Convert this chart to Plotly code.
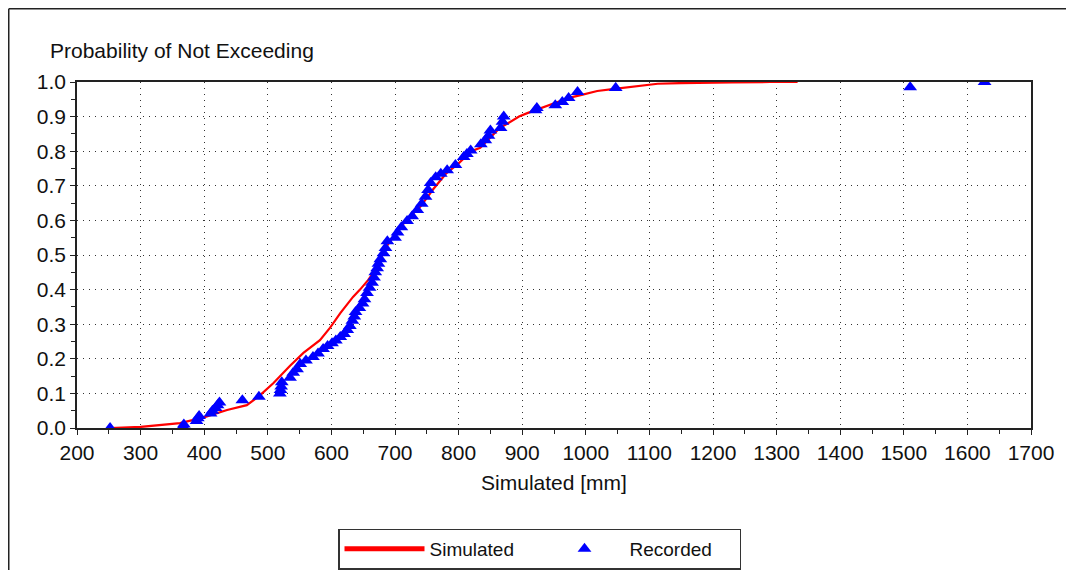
import plotly.graph_objects as go

# Simulated CDF (red line)
sim_x = [252, 300, 362, 398, 436, 467, 488, 509, 535, 556, 582, 598, 614, 634, 645, 658,
         670, 685, 700, 720, 740, 760, 780, 800, 820, 834, 850, 865, 877, 895, 908, 930,
         955, 975, 992, 1018, 1045, 1070, 1090, 1113, 1150, 1170, 1230, 1290, 1333]
sim_p = [0.0, 0.003, 0.014, 0.03, 0.052, 0.066, 0.095, 0.13, 0.18, 0.217, 0.254, 0.29, 0.332, 0.379, 0.40, 0.428,
         0.46, 0.52, 0.56, 0.605, 0.64, 0.69, 0.735, 0.765, 0.80, 0.81, 0.84, 0.868, 0.88, 0.90, 0.91, 0.925,
         0.94, 0.955, 0.962, 0.974, 0.98, 0.986, 0.99, 0.995, 0.997, 0.998, 0.999, 1.0, 1.0]

# Recorded values (blue triangles)
rec_x = [252, 367, 368, 388, 390, 392, 410, 413, 418, 421, 424, 460, 486, 519, 520, 521, 522,
         535, 540, 546, 551, 560, 571, 579, 587, 594, 601, 607, 614, 620, 625, 629, 633, 636,
         638, 644, 649, 652, 656, 660, 664, 667, 669, 672, 674, 677, 682, 685, 688, 700,
         704, 710, 719, 727, 735, 742, 748, 752, 756, 764, 772, 782, 795, 808, 813, 819,
         835, 842, 847, 850, 866, 869, 871, 921, 923, 952, 963, 973, 987, 1047, 1510, 1627]
rec_p = [0.000, 0.004, 0.010, 0.020, 0.028, 0.035, 0.042, 0.050, 0.058, 0.066, 0.074, 0.080, 0.090, 0.100, 0.110, 0.120, 0.132,
         0.145, 0.160, 0.170, 0.185, 0.195, 0.205, 0.215, 0.228, 0.237, 0.245, 0.253, 0.263, 0.272, 0.283, 0.295, 0.310, 0.322,
         0.335, 0.347, 0.360, 0.372, 0.390, 0.405, 0.420, 0.435, 0.450, 0.462, 0.475, 0.488, 0.505, 0.520, 0.540, 0.550,
         0.565, 0.580, 0.598, 0.612, 0.630, 0.648, 0.668, 0.688, 0.708, 0.725, 0.735, 0.745, 0.760, 0.783, 0.792, 0.802,
         0.820, 0.832, 0.845, 0.860, 0.867, 0.885, 0.900, 0.918, 0.925, 0.933, 0.942, 0.954, 0.971, 0.983, 0.985, 1.000]

FONT = "Liberation Sans, Arial, sans-serif"
W, H = 1066, 562
L, R, T, B = 69, 43, 74, 142
PW, PH = W - L - R, H - T - B

fig = go.Figure()
fig.add_trace(go.Scatter(x=sim_x, y=sim_p, mode="lines", name="Simulated",
                         line=dict(color="#FF0000", width=2.2)))
fig.add_trace(go.Scatter(x=rec_x, y=rec_p, mode="markers", name="Recorded",
                         marker=dict(symbol="triangle-up", color="#0000FF", size=12,
                                     line=dict(width=0))))

fig.update_layout(
    width=W, height=H,
    margin=dict(l=L, r=R, t=T, b=B, autoexpand=False),
    paper_bgcolor="white", plot_bgcolor="white",
    font=dict(family=FONT, size=21, color="#111111"),
    showlegend=True,
    hovermode=False,
    legend=dict(orientation="h", x=(330 - L) / PW, y=(H - 541) / H,
                xref="paper", yref="container", xanchor="left", yanchor="middle",
                bordercolor="#333333", borderwidth=1.5, bgcolor="white",
                font=dict(size=19), entrywidth=105, entrywidthmode="pixels",
                itemwidth=80, itemsizing="constant"),
)

grid = dict(showgrid=True, gridcolor="#333333", griddash="1px,5px", gridwidth=1.2,
            showline=True, linecolor="#222222", linewidth=1.5, mirror=True,
            ticks="outside", ticklen=5, tickcolor="#222222", zeroline=False, automargin=False)

fig.update_xaxes(range=[200, 1700], tickmode="linear", tick0=200, dtick=100,
                 minor=dict(dtick=50, ticks="outside", ticklen=4, tickcolor="#222222", showgrid=False),
                 title=dict(text="Simulated [mm]", font=dict(size=21), standoff=12), **grid)
fig.update_yaxes(range=[0, 1.0], tickmode="linear", tick0=0, dtick=0.1, tickformat=".1f",
                 minor=dict(dtick=0.05, ticks="outside", ticklen=4, tickcolor="#222222", showgrid=False),
                 **grid)

fig.add_annotation(text="Probability of Not Exceeding", xref="paper", yref="paper",
                   x=(40 - L) / PW, y=(T + PH - 43) / PH, xanchor="left", yanchor="middle",
                   showarrow=False, font=dict(size=21, family=FONT, color="#111111"))

# outer frame (top and left edges)
fx0 = (0.75 - L) / PW
fy0 = (T + PH - 0.75) / PH
fig.add_shape(type="line", xref="paper", yref="paper", x0=fx0, x1=(W - L) / PW, y0=fy0, y1=fy0,
              line=dict(color="#222222", width=1.5))
fig.add_shape(type="line", xref="paper", yref="paper", x0=fx0, x1=fx0, y0=fy0, y1=-(B + 5) / PH,
              line=dict(color="#222222", width=1.5))

fig.write_html("out.html")
